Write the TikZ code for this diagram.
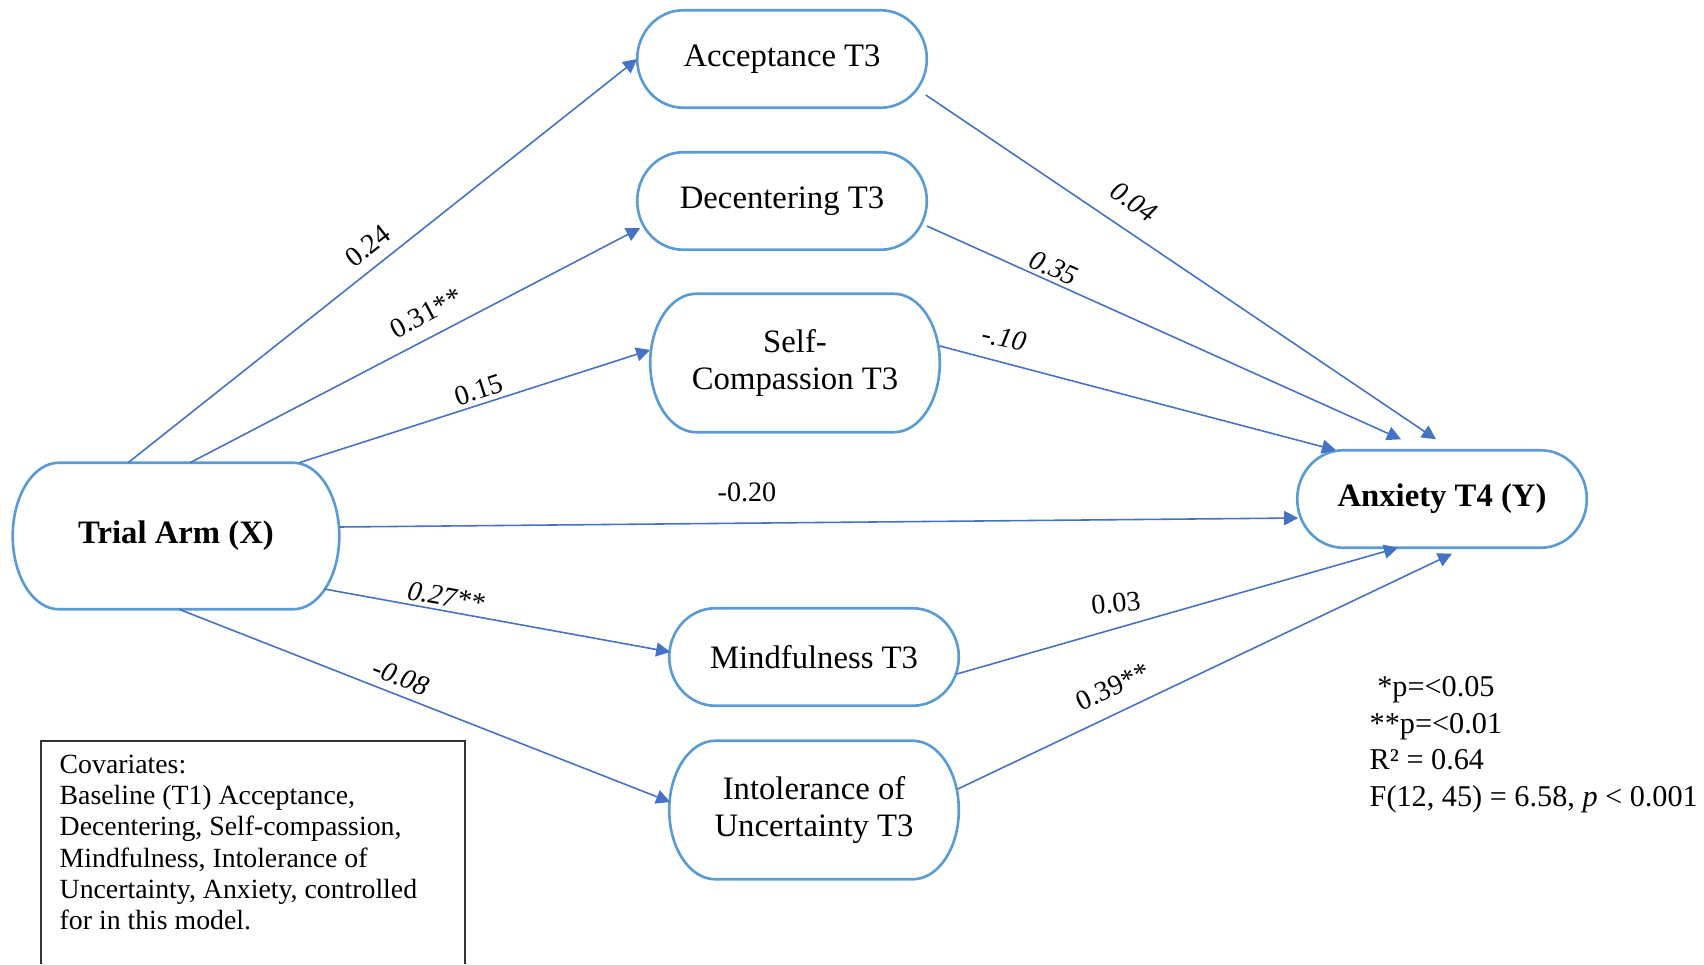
\documentclass[tikz,border=0pt]{standalone}
\usepackage{fontspec}
\setmainfont{Liberation Serif}
\usetikzlibrary{arrows.meta,calc}
\definecolor{boxblue}{RGB}{91,155,213}
\definecolor{lineblue}{RGB}{68,114,196}
\newcommand{\nodefont}{\fontsize{9.3}{10.5}\selectfont}
\newcommand{\labfont}{\fontsize{8}{9.6}\selectfont}
\newcommand{\statfont}{\fontsize{8.6}{10.4}\selectfont}
\newcommand{\covfont}{\fontsize{7.9}{8.9}\selectfont}

\begin{document}
\begin{tikzpicture}[x=0.01cm,y=0.01cm,
  var/.style={minimum width=2.88cm,minimum height=0.96cm,inner sep=0pt,align=center,font=\nodefont},
  tall/.style={var,minimum height=1.37cm},
  outline/.style={draw=boxblue,line width=0.75pt},
  link/.style={draw=lineblue,line width=0.45pt,-{Triangle[length=4pt,width=4pt]}},
  coef/.style={font=\labfont,inner sep=1pt}]
\useasboundingbox (0,0) rectangle (1704,-964);
\node[var,font=\nodefont\bfseries,minimum width=3.25cm,minimum height=1.45cm] (trial) at (176,-536) {Trial Arm (X)};
\node[var] (acc) at (782,-59) {Acceptance T3};
\node[var] (dec) at (782,-201) {Decentering T3};
\node[tall] (self) at (795,-363) {Self-\\Compassion T3};
\node[var,font=\nodefont\bfseries] (anx) at (1442,-499) {Anxiety T4 (Y)};
\node[var] (mind) at (814,-657) {Mindfulness T3};
\node[tall] (intol) at (814,-810) {Intolerance of\\Uncertainty T3};
\foreach \nd in {trial,acc,dec,self,anx,mind,intol}
  \draw[outline] let \p1=(\nd.north west), \p2=(\nd.south east), \n1={0.5*(\y1-\y2)} in
    (\x1+0.46cm,\y1) -- (\x2-0.46cm,\y1)
    arc[start angle=90,end angle=-90,x radius=0.46cm,y radius=\n1]
    -- (\x1+0.46cm,\y2)
    arc[start angle=270,end angle=90,x radius=0.46cm,y radius=\n1] -- cycle;
\draw[link] ([shift={(-48,0)}]trial.north) -- (acc.west);
\draw[link] ([shift={(14,0)}]trial.north) -- ([shift={(3,-27)}]dec.west);
\draw[link] ([shift={(123,0)}]trial.north) -- ([shift={(0,13)}]self.west);
\draw[link] ([shift={(0,9)}]trial.east) -- ([shift={(1,-19)}]anx.west);
\draw[link] ([shift={(-15,-53)}]trial.east) -- ([shift={(1,5)}]mind.west);
\draw[link] ([shift={(3,0)}]trial.south) -- ([shift={(1,8)}]intol.west);
\draw[link] ([shift={(-1,-36)}]acc.east) -- ([shift={(-6,11)}]anx.north);
\draw[link] ([shift={(0,-25)}]dec.east) -- ([shift={(-41,11)}]anx.north);
\draw[link] ([shift={(0,17)}]self.east) -- ([shift={(-106,0)}]anx.north);
\draw[link] ([shift={(-2,-17)}]mind.east) -- ([shift={(-44,0)}]anx.south);
\draw[link] ([shift={(-1,21)}]intol.east) -- ([shift={(10,-6)}]anx.south);
\node[coef,rotate=38] (c1) at (368,-246) {0.24};
\node[coef,rotate=28] (c2) at (426,-313) {0.31**};
\node[coef,rotate=18] (c3) at (479,-390) {0.15};
\node[coef] (c4) at (747,-492) {-0.20};
\node[coef,rotate=-10,font=\labfont\itshape] (c5) at (446,-597) {0.27**};
\node[coef,rotate=-21,font=\labfont\itshape] (c6) at (401,-677) {-0.08};
\node[coef,rotate=-34,font=\labfont\itshape] (c7) at (1134,-202) {0.04};
\node[coef,rotate=-24,font=\labfont\itshape] (c8) at (1054,-268) {0.35};
\node[coef,rotate=-12,font=\labfont\itshape] (c9) at (1004,-338) {-.10};
\node[coef,rotate=6] (c10) at (1116,-603) {0.03};
\node[coef,rotate=25] (c11) at (1113,-687) {0.39**};
\node[anchor=north west,align=left,inner sep=0pt,font=\statfont] (stats) at (1369,-676)
  {\hspace{0.25em}*p=<0.05\\{}**p=<0.01\\R² = 0.64\\F(12, 45) = 6.58, \textit{p} < 0.001};
\draw[black!80,line width=0.45pt] (41,-964) -- (41,-741) -- (465,-741) -- (465,-964);
\node[anchor=north west,align=left,inner sep=0pt,font=\covfont] (cov) at (59,-754)
  {Covariates:\\Baseline (T1) Acceptance,\\Decentering, Self-compassion,\\Mindfulness, Intolerance of\\Uncertainty, Anxiety, controlled\\for in this model.};
\end{tikzpicture}
\end{document}
